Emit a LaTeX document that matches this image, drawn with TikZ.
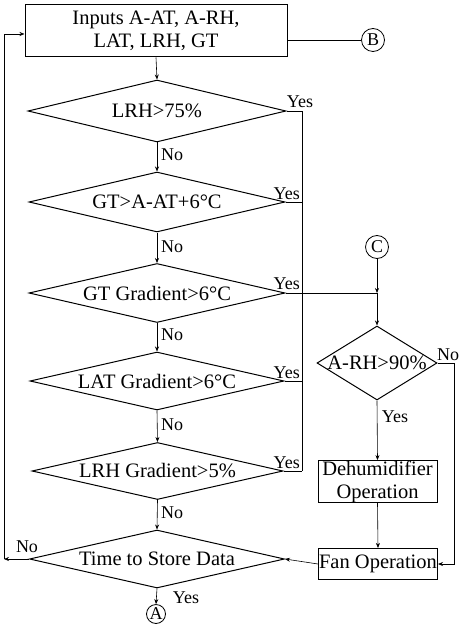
\documentclass[tikz,border=0pt]{standalone}
\usepackage{fontspec}
\setmainfont{Liberation Serif}
\usetikzlibrary{arrows.meta,shapes.geometric}
\newcommand{\ctr}[1]{\makebox[0pt]{#1}}
\tikzset{
  every node/.style={font=\fontsize{20.5}{23}\selectfont},
  box/.style={draw, line width=1pt, inner sep=0pt, align=center},
  decide/.style={draw, shape=diamond, aspect=1, inner sep=0pt, line width=1pt},
  conn/.style={circle, draw, line width=0.8pt, inner sep=0pt, minimum size=23pt, font=\fontsize{18}{18}\selectfont},
  lbl/.style={inner sep=0pt, font=\fontsize{18}{18}\selectfont},
  flow/.style={line width=0.6pt},
  arr/.style={flow, -{Stealth[length=5pt,width=4pt]}}
}
\begin{document}
\begin{tikzpicture}[x=1pt, y=-1pt]
\useasboundingbox (0,0) rectangle (459,628);

% main column
\node[box, minimum width=262pt, minimum height=52pt] (inp) at (156,31) {Inputs A-AT, A-RH,\\LAT, LRH, GT};
\node[decide, minimum width=258pt, minimum height=62pt] (d1) at (157,111) {\ctr{LRH>75\%}};
\node[decide, minimum width=256pt, minimum height=60pt] (d2) at (157,202) {\ctr{GT>A-AT+6°C}};
\node[decide, minimum width=256pt, minimum height=59pt] (d3) at (157,293) {\ctr{GT Gradient>6°C}};
\node[decide, minimum width=254pt, minimum height=58pt] (d4) at (157,381) {\ctr{LAT Gradient>6°C}};
\node[decide, minimum width=251pt, minimum height=57pt] (d5) at (157.5,471) {\ctr{LRH Gradient>5\%}};
\node[decide, minimum width=255pt, minimum height=58pt] (d6) at (157,559) {\ctr{Time to Store Data}};

% connectors
\node[conn] (B) at (373,40) {B};
\node[conn] (C) at (377,247) {C};
\node[conn, minimum size=19pt] (A) at (156,614) {A};

% right column
\node[decide, minimum width=120pt, minimum height=74pt] (d7) at (377,363) {\ctr{A-RH>90\%}};
\node[box, minimum width=119pt, minimum height=40pt] (dh) at (377.5,481.5) {Dehumidifier\\Operation};
\node[box, minimum width=119pt, minimum height=31pt] (fan) at (378,564) {Fan Operation};

% helper points
\coordinate (bus) at (302,111);
\coordinate (busend) at (302,471);
\coordinate (j) at (377,293);
\coordinate (rn) at (454,363);
\coordinate (lx) at (4,559);
\coordinate (lt) at (4,34);

% main flow
\draw[arr] (inp.south) -- (d1.north);
\draw[arr] (d1.south) -- (d2.north);
\draw[arr] (d2.south) -- (d3.north);
\draw[arr] (d3.south) -- (d4.north);
\draw[arr] (d4.south) -- (d5.north);
\draw[arr] (d5.south) -- (d6.north);
\draw[arr] (d6.south) -- (A.north);
\draw[flow] (inp.east |- B) -- (B.west);

% yes bus on the right of the decisions
\draw[flow] (d1.east) -- (bus) -- (busend);
\draw[flow] (d2.east) -- (d2.east -| bus);
\draw[flow] (d4.east) -- (d4.east -| bus);
\draw[flow] (d5.east) -- (busend);
\draw[flow] (d3.east) -- (j);
\draw[arr] (C.south) -- (j);
\draw[arr] (j) -- (d7.north);

% humidity branch
\draw[arr] (d7.south) -- (dh.north);
\draw[arr] (dh.south) -- (fan.north);
\draw[arr] (d7.east) -- (rn) |- (fan.east);
\draw[arr] (fan.west) -- (d6.east);

% loop back to inputs
\draw[arr] (d6.west) -- (lx);
\draw[arr] (lx) -- (lt) -- (inp.west |- lt);

% branch labels
\node[lbl, anchor=south] (y1) at (300,108) {Yes};
\node[lbl, anchor=south east] (y2) at (300,200) {Yes};
\node[lbl, anchor=south east] (y3) at (300,290) {Yes};
\node[lbl, anchor=south east] (y4) at (300,379) {Yes};
\node[lbl, anchor=south east] (y5) at (300,469) {Yes};
\node[lbl, anchor=west] (n1) at (161,155) {No};
\node[lbl, anchor=west] (n2) at (161,247) {No};
\node[lbl, anchor=west] (n3) at (161,335) {No};
\node[lbl, anchor=west] (n4) at (161,425) {No};
\node[lbl, anchor=west] (n5) at (161,513) {No};
\node[lbl] (n6) at (27,547) {No};
\node[lbl] (y6) at (186,598) {Yes};
\node[lbl, anchor=south west] (n7) at (437,361) {No};
\node[lbl] (y7) at (395,417) {Yes};
\end{tikzpicture}
\end{document}
